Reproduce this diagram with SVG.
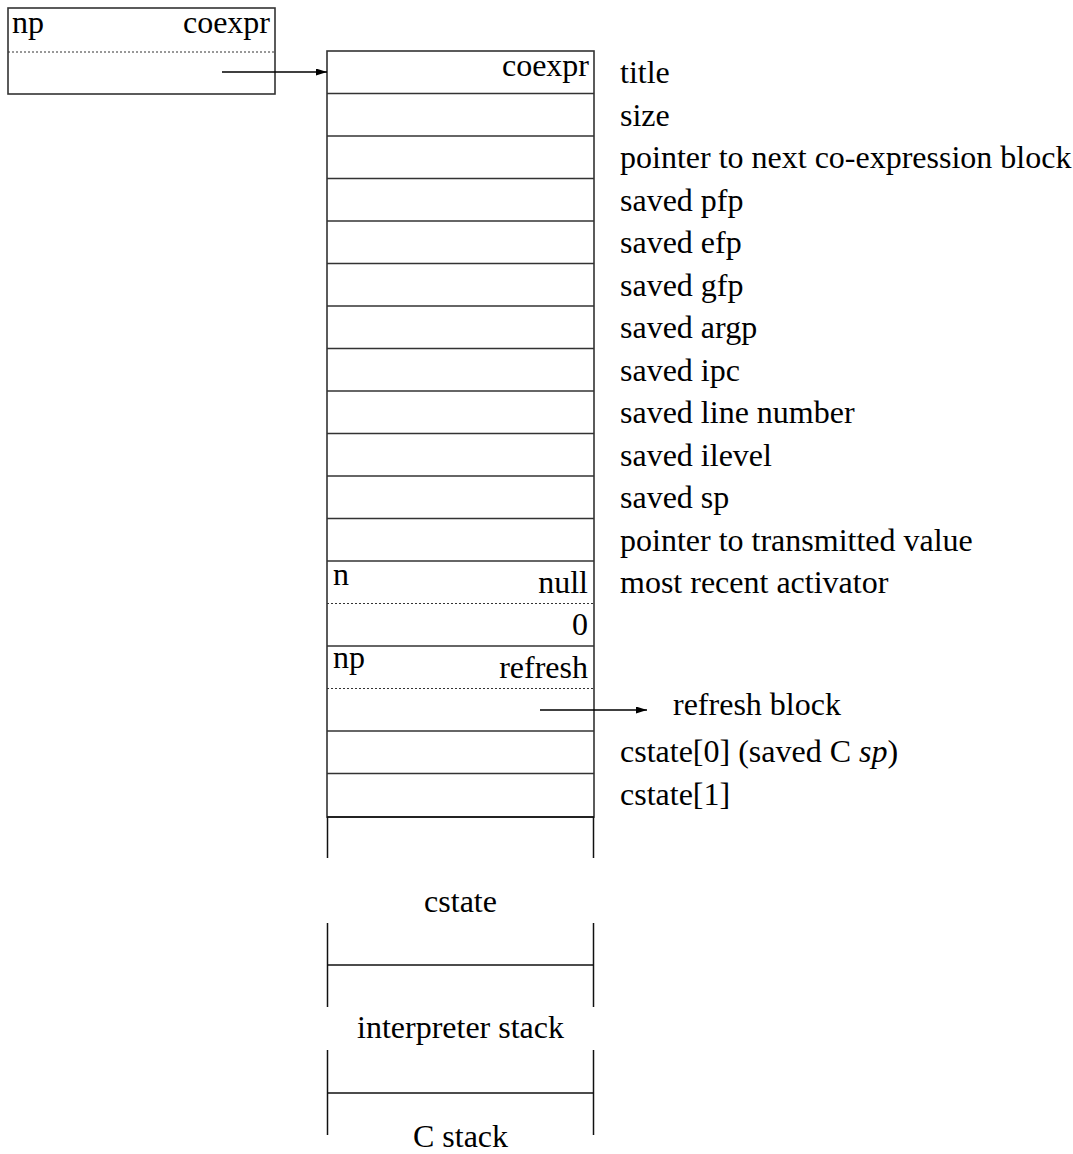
<svg xmlns="http://www.w3.org/2000/svg" width="1073" height="1154" viewBox="0 0 1073 1154">
<style>
text { font-family: "Liberation Serif", "Times New Roman", serif; font-size: 32px; fill: #000; }
.r { text-anchor: end; }
.c { text-anchor: middle; }
.box { fill: none; stroke: #333; stroke-width: 1.6; }
.sep { stroke: #333; stroke-width: 1.6; }
.dot { stroke: #333; stroke-width: 1; stroke-dasharray: 2,2; }
.blk { stroke: #111; stroke-width: 1.5; }
.conn { stroke: #000; stroke-width: 1.3; fill: none; }
</style>
<defs>
<marker id="ah" viewBox="0 0 11 7" refX="11" refY="3.5" markerWidth="11" markerHeight="7" markerUnits="userSpaceOnUse" orient="auto">
<path d="M0,0 L11,3.5 L0,7 Z" fill="#000"/>
</marker>
</defs>
<rect width="1073" height="1154" fill="#fff"/>

<g id="var-descriptor">
<rect class="box" x="8" y="8" width="267" height="86"/>
<line class="dot" x1="8" y1="52" x2="275" y2="52"/>
<text x="12" y="33">np</text>
<text class="r" x="270" y="33">coexpr</text>
</g>

<g id="coexpr-block">
<rect class="box" x="327" y="51" width="267" height="766"/>
<line class="sep" x1="327" y1="93.5" x2="594" y2="93.5"/>
<line class="sep" x1="327" y1="136" x2="594" y2="136"/>
<line class="sep" x1="327" y1="178.5" x2="594" y2="178.5"/>
<line class="sep" x1="327" y1="221" x2="594" y2="221"/>
<line class="sep" x1="327" y1="263.5" x2="594" y2="263.5"/>
<line class="sep" x1="327" y1="306" x2="594" y2="306"/>
<line class="sep" x1="327" y1="348.5" x2="594" y2="348.5"/>
<line class="sep" x1="327" y1="391" x2="594" y2="391"/>
<line class="sep" x1="327" y1="433.5" x2="594" y2="433.5"/>
<line class="sep" x1="327" y1="476" x2="594" y2="476"/>
<line class="sep" x1="327" y1="518.5" x2="594" y2="518.5"/>
<line class="sep" x1="327" y1="561" x2="594" y2="561"/>
<line class="dot" x1="327" y1="603.5" x2="594" y2="603.5"/>
<line class="sep" x1="327" y1="646" x2="594" y2="646"/>
<line class="dot" x1="327" y1="688.5" x2="594" y2="688.5"/>
<line class="sep" x1="327" y1="731" x2="594" y2="731"/>
<line class="sep" x1="327" y1="773.5" x2="594" y2="773.5"/>
<line class="blk" x1="327" y1="817" x2="594" y2="817"/>
<text class="r" x="589" y="76">coexpr</text>
<text x="333" y="585">n</text>
<text class="r" x="588" y="593">null</text>
<text class="r" x="588" y="635">0</text>
<text x="333" y="668">np</text>
<text class="r" x="588" y="678">refresh</text>
</g>

<g id="labels">
<text x="620" y="83">title</text>
<text x="620" y="125.5">size</text>
<text x="620" y="168">pointer to next co-expression block</text>
<text x="620" y="210.5">saved pfp</text>
<text x="620" y="253">saved efp</text>
<text x="620" y="295.5">saved gfp</text>
<text x="620" y="338">saved argp</text>
<text x="620" y="380.5">saved ipc</text>
<text x="620" y="423">saved line number</text>
<text x="620" y="465.5">saved ilevel</text>
<text x="620" y="508">saved sp</text>
<text x="620" y="550.5">pointer to transmitted value</text>
<text x="620" y="593">most recent activator</text>
<text x="673" y="715">refresh block</text>
<text x="620" y="762">cstate[0] (saved C <tspan font-style="italic">sp</tspan>)</text>
<text x="620" y="805">cstate[1]</text>
</g>

<g id="stack-area">
<line class="blk" x1="327.5" y1="817" x2="327.5" y2="858"/>
<line class="blk" x1="593.5" y1="817" x2="593.5" y2="858"/>
<text class="c" x="460.5" y="912">cstate</text>
<line class="blk" x1="327.5" y1="923" x2="327.5" y2="1007"/>
<line class="blk" x1="593.5" y1="923" x2="593.5" y2="1007"/>
<line class="blk" x1="327.5" y1="965" x2="593.5" y2="965"/>
<text class="c" x="460.5" y="1038">interpreter stack</text>
<line class="blk" x1="327.5" y1="1050" x2="327.5" y2="1135"/>
<line class="blk" x1="593.5" y1="1050" x2="593.5" y2="1135"/>
<line class="blk" x1="327.5" y1="1093" x2="593.5" y2="1093"/>
<text class="c" x="460.5" y="1147">C stack</text>
</g>

<g id="connectors">
<line class="conn" x1="222" y1="72" x2="327" y2="72" marker-end="url(#ah)"/>
<line class="conn" x1="540" y1="710" x2="647" y2="710" marker-end="url(#ah)"/>
</g>
</svg>
